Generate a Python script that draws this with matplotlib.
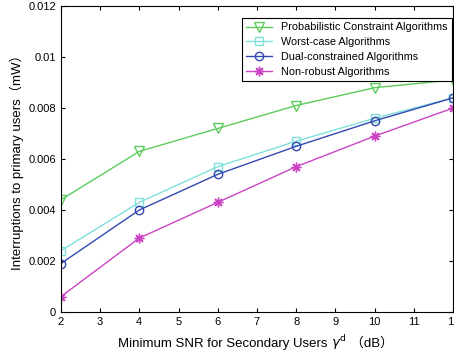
import matplotlib
matplotlib.use('Agg')
import matplotlib.pyplot as plt

# donnees
snr = [2, 4, 6, 8, 10, 12]
prob_constraint = [0.0044, 0.0063, 0.0072, 0.0081, 0.0088, 0.0091]
worst_case = [0.0024, 0.0043, 0.0057, 0.0067, 0.0076, 0.0084]
dual_constrained = [0.0019, 0.0040, 0.0054, 0.0065, 0.0075, 0.0084]
non_robust = [0.0006, 0.0029, 0.0043, 0.0057, 0.0069, 0.0080]

xticks = [2, 3, 4, 5, 6, 7, 8, 9, 10, 11, 12]
yticks = [0, 0.002, 0.004, 0.006, 0.008, 0.01, 0.012]
ytick_labels = ['0', '0.002', '0.004', '0.006', '0.008', '0.01', '0.012']

fam = ['Liberation Sans', 'Noto Sans CJK SC', 'DejaVu Sans']
plt.rcParams['font.family'] = fam

fig = plt.figure(figsize=(4.54, 3.59), dpi=100)
ax = fig.add_axes([0.134, 0.131, 0.864, 0.852])

ax.plot(snr, prob_constraint, color='#5ccc5c', marker='v', mfc='none', ms=7, lw=1,
        label='Probabilistic Constraint Algorithms')
ax.plot(snr, worst_case, color='#7fe0dc', marker='s', mfc='none', ms=6, lw=1,
        label='Worst-case Algorithms')
ax.plot(snr, dual_constrained, color='#3348b0', marker='o', mfc='none', ms=6, lw=1,
        label='Dual-constrained Algorithms')
ax.plot(snr, non_robust, color='#cc44c4', marker=(8, 2, 0), ms=7, lw=1,
        label='Non-robust Algorithms')

ax.set_xlim(2, 12)
ax.set_ylim(0, 0.012)
ax.set_xticks(xticks)
ax.set_yticks(yticks)
ax.set_yticklabels(ytick_labels)
ax.tick_params(direction='in', top=True, right=True, labelsize=8, length=3)
for s in ax.spines.values():
    s.set_linewidth(0.8)

# label x en trois morceaux (mathtext ne sait pas faire les parentheses CJK)
y_base = 0.033
t1 = fig.text(0.26, y_base, 'Minimum SNR for Secondary Users ', fontsize=9.5,
              ha='left', va='baseline')
t2 = ax.annotate('$\\gamma^{\\rm d}$', xy=(1, y_base), xycoords=(t1, 'figure fraction'),
                 fontsize=9.5, ha='left', va='baseline', annotation_clip=False)
t3 = ax.annotate(' （dB）', xy=(1, y_base), xycoords=(t2, 'figure fraction'),
                 fontsize=9.5, ha='left', va='baseline', annotation_clip=False)

ax.set_ylabel('Interruptions to primary users（mW）', fontsize=9.5, labelpad=3)

leg = ax.legend(loc='upper right', bbox_to_anchor=(0.997, 0.961), borderaxespad=0,
                fontsize=7.8, fancybox=False, framealpha=1, edgecolor='black',
                handlelength=2.4, labelspacing=0.45, borderpad=0.4)
leg.get_frame().set_linewidth(0.8)

fig.savefig('out.png', dpi=100)
